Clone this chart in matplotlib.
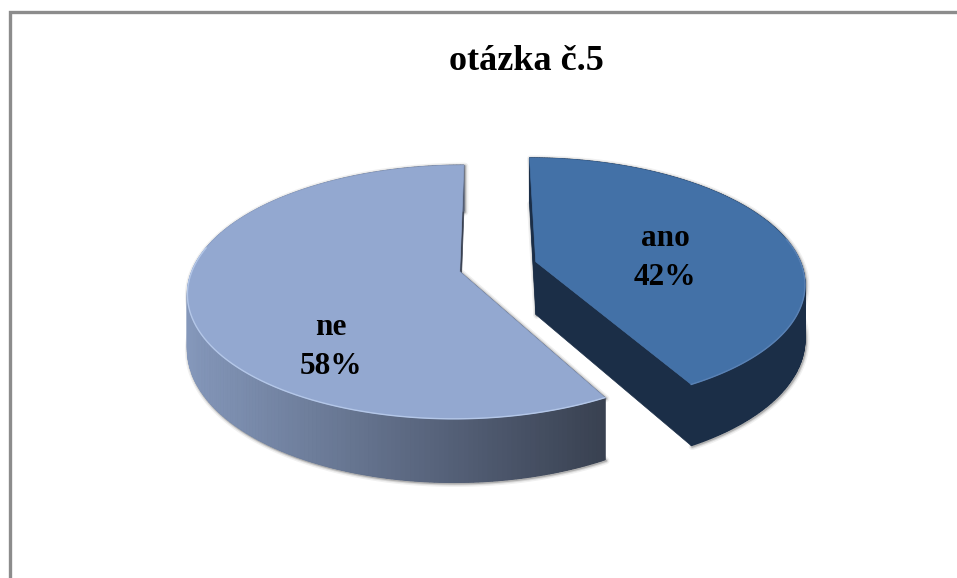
import numpy as np
import matplotlib
matplotlib.use("Agg")
import matplotlib.pyplot as plt
from matplotlib.patches import Polygon
from matplotlib.colors import to_rgb

# Data
labels = ["ano", "ne"]
values = [42, 58]
title = "otázka č.5"

# Look of the pie
top_colors = ["#4371A7", "#93A8D0"]
rim_colors = ["#5A82B5", "#B4C7E8"]
side_left = ["#1B2E47", "#8497BA"]
side_right = ["#1B2E47", "#394151"]
shift_u = [0.173, -0.113]
shift_v = [-0.035, 0.045]
label_pos = [(665, 258), (331, 347)]

cx, cy = 490, 266
rx, ry = 266, 121.8
k = 0.16
drop = 53

fig = plt.figure(figsize=(9.57, 5.78), dpi=100)
ax = fig.add_axes([0, 0, 1, 1])
ax.set_xlim(0, 957)
ax.set_ylim(578, 0)
ax.axis("off")


def project(u, v, su, sv, z=0.0):
    u = u + su
    v = v + sv
    w = 1 - k * v
    return cx + rx * u / w, cy + ry * v / w + z * drop / w


def blend(c1, c2, t):
    a, b = np.array(to_rgb(c1)), np.array(to_rgb(c2))
    return tuple(a + (b - a) * t)


# frame (only top and left are visible in the picture)
ax.plot([9.5, 9.5, 957], [578, 12, 12], color="#8C8C8C", lw=2.4, solid_joinstyle="miter")

# angles go clockwise from the top, first slice starts at 12 o'clock
edges = np.cumsum([0] + values) / sum(values) * 2 * np.pi

for i in [1, 0]:
    su, sv = shift_u[i], shift_v[i]
    th = np.linspace(edges[i], edges[i + 1], 240)
    u, v = np.sin(th), -np.cos(th)

    tx, ty = project(u, v, su, sv)
    ax0, ay0 = project(0, 0, su, sv)
    bx, by = project(u, v, su, sv, 1)
    bx0, by0 = project(0, 0, su, sv, 1)

    hull = np.c_[np.r_[tx, bx[::-1], bx0, ax0], np.r_[ty, by[::-1], by0, ay0]]

    # soft shadow round the slice
    for lw, a in [(5, 0.06), (3, 0.10), (1.5, 0.18)]:
        ax.add_patch(Polygon(hull + [1, 1], closed=True, fc="none", ec="black", lw=lw, alpha=a,
                             joinstyle="round", zorder=2))
    ax.add_patch(Polygon(hull, closed=True, fc=side_right[i], ec="none", zorder=3))

    # cut faces
    for j in [0, -1]:
        quad = [(ax0, ay0), (tx[j], ty[j]), (bx[j], by[j]), (bx0, by0)]
        ax.add_patch(Polygon(quad, closed=True, fc=side_right[i], ec=side_right[i], lw=0.5, zorder=3))

    # outer wall, shaded from left to right
    for j in range(len(th) - 1):
        t = np.clip((tx[j] - 190) / (605 - 190), 0, 1)
        col = blend(side_left[i], side_right[i], t)
        quad = [(tx[j], ty[j]), (tx[j + 1], ty[j + 1]), (bx[j + 1], by[j + 1]), (bx[j], by[j])]
        ax.add_patch(Polygon(quad, closed=True, fc=col, ec=col, lw=0.8, zorder=4))

    # top face
    ax.add_patch(Polygon(np.c_[np.r_[ax0, tx], np.r_[ay0, ty]], closed=True,
                         fc=top_colors[i], ec=top_colors[i], lw=0.5, zorder=5))
    # light rim on the front edge
    front = v > -0.2
    ax.plot(tx[front], ty[front], color=rim_colors[i], lw=1.0, zorder=6)

    x, y = label_pos[i]
    ax.text(x, y, f"{labels[i]}\n{values[i]}%", ha="center", va="center", family="Liberation Serif",
            fontweight="bold", fontsize=22.5, color="black", linespacing=1.45, zorder=7)

ax.text(526, 62, title, ha="center", va="center", family="Liberation Serif",
        fontweight="bold", fontsize=26, color="black")

fig.savefig("out.png", dpi=100)
